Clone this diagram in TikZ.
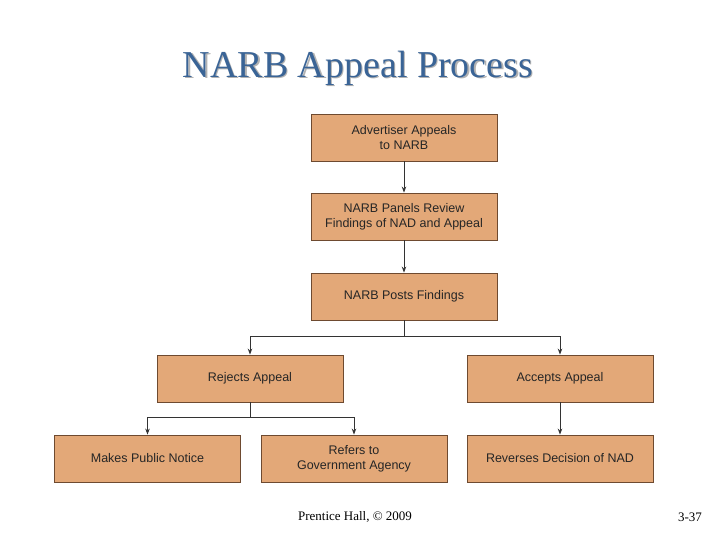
\documentclass[tikz,border=0pt]{standalone}
\usepackage{fontspec}
\setmainfont{Liberation Serif}
\newfontfamily\boxfont{Liberation Sans}
\usetikzlibrary{arrows.meta}
\definecolor{boxfill}{HTML}{E3A878}
\definecolor{boxdraw}{HTML}{6E4A30}
\definecolor{titleblue}{HTML}{3A6496}
\begin{document}
\begin{tikzpicture}[x=1pt,y=-1pt,
  box/.style={draw=boxdraw,line width=0.8pt,fill=boxfill,minimum width=186pt,minimum height=47pt,inner sep=0pt,align=center,font=\boxfont\fontsize{12.5}{15}\selectfont,text=black!85},
  arr/.style={draw=black!80,line width=1pt,-{Stealth[length=6pt,width=4.5pt]}},
  ln/.style={draw=black!80,line width=1pt}]
\useasboundingbox (0,0) rectangle (720,540);
\node[font=\fontsize{38}{40}\selectfont,text=gray!60] at (359.5,69.5) {NARB Appeal Process};
\node (title) [font=\fontsize{38}{40}\selectfont,text=titleblue] at (358,68) {NARB Appeal Process};
\node[box] (a) at (404,137.5) {Advertiser Appeals\\to NARB};
\node[box] (b) at (404,216.5) {NARB Panels Review\\Findings of NAD and Appeal};
\node[box] (c) at (404,296.5) {NARB Posts Findings};
\node[box] (r) at (250,378.5) {Rejects Appeal};
\node[box] (acc) at (560,378.5) {Accepts Appeal};
\node[box] (m) at (147.5,458.5) {Makes Public Notice};
\node[box] (g) at (354,458.5) {Refers to\\Government Agency};
\node[box] (rev) at (560,458.5) {Reverses Decision of NAD};
\draw[arr] (a) -- (b);
\draw[arr] (b) -- (c);
\coordinate (j1) at (404,336);
\draw[ln] (c) -- (j1);
\draw[arr] (j1) -| (r);
\draw[arr] (j1) -| (acc);
\coordinate (j2) at (250,417);
\draw[ln] (r) -- (j2);
\draw[arr] (j2) -| (m);
\draw[arr] (j2) -| (g);
\draw[arr] (acc) -- (rev);
\node (foot) [font=\fontsize{13}{15}\selectfont] at (355,517) {Prentice Hall, © 2009};
\node (page) [font=\fontsize{13}{15}\selectfont] at (690,517) {3-37};
\end{tikzpicture}
\end{document}
